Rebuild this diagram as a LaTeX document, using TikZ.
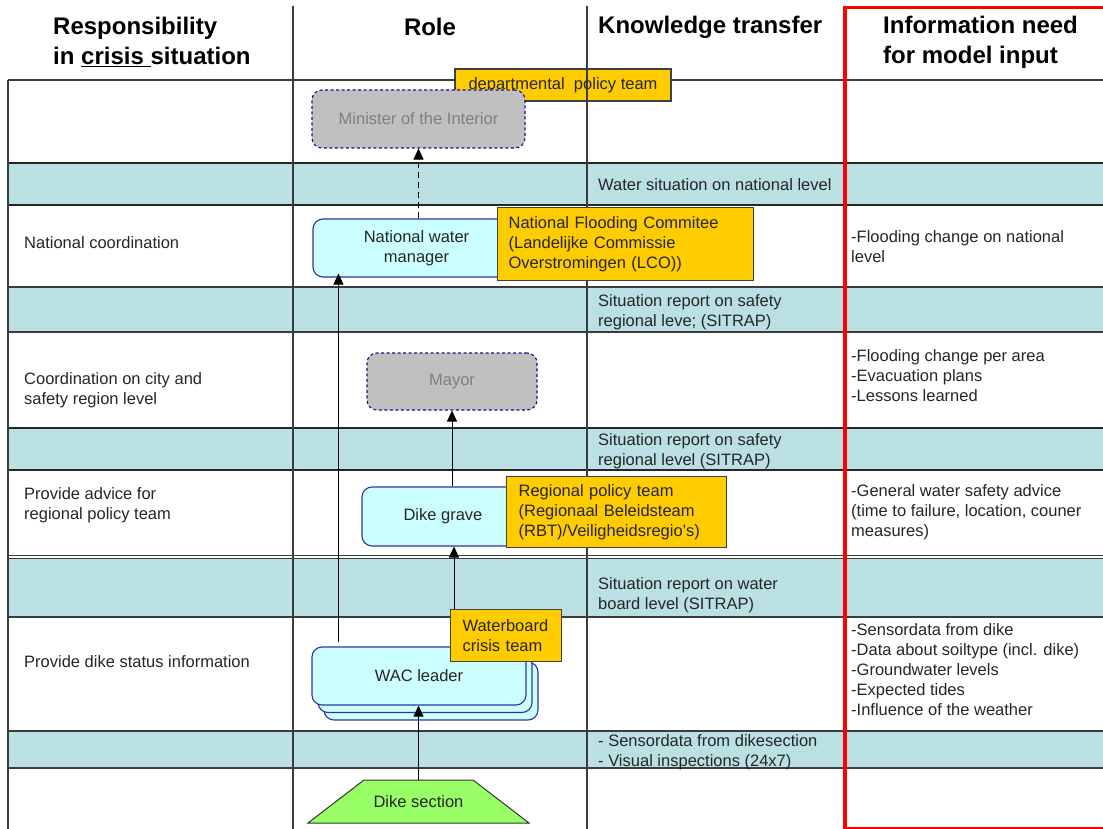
\documentclass[tikz,border=0pt]{standalone}
\usepackage{fontspec}
\setmainfont{Liberation Sans}
\usetikzlibrary{shadows,arrows.meta}
\definecolor{bandc}{RGB}{186,224,227}
\definecolor{cyanbox}{RGB}{204,255,255}
\definecolor{graybox}{RGB}{192,192,192}
\definecolor{yel}{RGB}{255,204,0}
\definecolor{navyc}{RGB}{51,51,160}
\definecolor{dashnavy}{RGB}{20,20,140}
\definecolor{gridc}{RGB}{60,60,60}
\definecolor{gtext}{RGB}{128,128,128}
\begin{document}
\begin{tikzpicture}[x=1pt,y=-1pt,
  body/.style={font=\fontsize{16.5}{20}\selectfont, inner sep=0pt, align=left, anchor=west, text=black!85},
  head/.style={font=\fontsize{24}{30}\bfseries\selectfont, inner sep=0pt, align=left},
  band/.style={fill=bandc},
  thinline/.style={draw=gridc, line width=1.2pt},
  thickline/.style={draw=black!85, line width=2.4pt},
  rolebox/.style={rounded corners=10pt, draw=navyc, fill=cyanbox, line width=1.1pt,
    font=\fontsize{16.5}{20}\selectfont, align=center, inner sep=0pt, text=black!85},
  ghostbox/.style={rounded corners=10pt, draw=dashnavy, dash pattern=on 3pt off 2.5pt, fill=graybox,
    line width=1.1pt, font=\fontsize{16.5}{20}\selectfont, align=center, inner sep=0pt, text=gtext},
  teambox/.style={fill=yel, draw=black!75, line width=1.2pt, font=\fontsize{16.5}{20}\selectfont,
    align=left, inner ysep=0pt, anchor=north west, text=black!85},
  arr/.style={-{Triangle[length=11pt,width=10pt]}, line width=1pt, black},
]
\useasboundingbox (0,0) rectangle (1103,829);
\clip (0,0) rectangle (1103,829);
\fill[white] (0,0) rectangle (1103,829);

% bands
\fill[band] (8,163) rectangle (1103,205);
\fill[band] (8,287) rectangle (1103,332);
\fill[band] (8,428) rectangle (1103,470);
\fill[band] (8,558) rectangle (1103,617);
\fill[band] (8,731) rectangle (1103,768);

% horizontal lines
\foreach \yy in {80,287,332,555.5,558.5,617,731,768} {\draw[thinline] (8,\yy) -- (1103,\yy);}
\foreach \yy in {163,205,428,470} {\draw[thickline] (8,\yy) -- (1103,\yy);}

% header
\node[head, anchor=west] (h1) at (53,42) {Responsibility\\in \underline{crisis\ }situation};
\node[head] (h2) at (430,27) {Role};
\node[head, anchor=west] (h3) at (598,27) {Knowledge transfer};
\node[head, anchor=west] (h4) at (883,42) {Information need\\for model input};

% departmental box (under the vertical lines)
\node[teambox, minimum width=216pt, minimum height=32pt, align=center, anchor=center] (dep) at (563,85) {departmental\ \ policy team};

% vertical lines
\draw[thinline] (8,80) -- (8,829);
\draw[thinline] (293,6) -- (293,829);
\draw[thinline] (587,6) -- (587,829);

% left column texts
\node[body] (r1) at (24,243) {National coordination};
\node[body] (r2) at (24,390) {Coordination on city and\\safety region level};
\node[body] (r3) at (24,505) {Provide advice for\\regional policy team};
\node[body] (r4) at (24,662) {Provide dike status information};

% knowledge transfer texts
\node[body] (k1) at (598,185) {Water situation on national level};
\node[body] (k2) at (598,312) {Situation report on safety\\regional leve; (SITRAP)};
\node[body] (k3) at (598,451) {Situation report on safety\\regional level (SITRAP)};
\node[body] (k4) at (598,595) {Situation report on water\\board level (SITRAP)};
\node[body] (k5) at (598,752) {- Sensordata from dikesection\\- Visual inspections (24x7)};

% info need texts
\node[body] (i1) at (851,247) {-Flooding change on national\\level};
\node[body] (i2) at (851,376) {-Flooding change per area\\-Evacuation plans\\-Lessons learned};
\node[body] (i3) at (851,512) {-General water safety advice\\(time to failure, location, couner\\measures)};
\node[body] (i4) at (851,670) {-Sensordata from dike\\-Data about soiltype (incl. dike)\\-Groundwater levels\\-Expected tides\\-Influence of the weather};

% role boxes
\node[ghostbox, minimum width=213pt, minimum height=58pt] (min) at (418.5,119) {Minister of the Interior};
\node[rolebox, minimum width=207pt, minimum height=58pt] (nwm) at (416.5,248) {National water\\manager};
\node[ghostbox, minimum width=170pt, minimum height=57pt] (may) at (452,381.5) {Mayor};
\node[rolebox, minimum width=162pt, minimum height=59pt] (dg) at (443,516.5) {Dike grave};
\node[rolebox, minimum width=214pt, minimum height=58pt,
  copy shadow={shadow xshift=12pt, shadow yshift=-15pt},
  copy shadow={shadow xshift=6pt, shadow yshift=-7.5pt}] (wac) at (419,676) {WAC leader};

% dike section
\fill[fill={rgb,255:red,153;green,255;blue,102}, draw=black!80, line width=1pt]
  (364,780) -- (473,780) -- (529,823) -- (308,823) -- cycle;
\node[inner sep=0pt, minimum width=109pt, minimum height=43pt, font=\fontsize{16.5}{20}\selectfont, text=black!85] (ds) at (418.5,801.5) {Dike section};

% connectors
\draw[arr, dash pattern=on 6pt off 4pt] (nwm.north -| min.south) -- (min.south);
\draw[arr] ([shift={(27,-4)}]wac.north west) -- ([shift={(27,-4)}]wac.north west |- nwm.south);
\draw[arr] (dg.north -| may.south) -- (may.south);
\draw[arr] (ds.north) -- (ds.north |- wac.south);

% team boxes
\node[teambox, text width=234pt, inner xsep=11pt, minimum height=73pt] (nfc) at (497,207)
  {National Flooding Commitee\\(Landelijke Commissie\\Overstromingen (LCO))};
\node[teambox, text width=196pt, inner xsep=12pt, minimum height=71pt] (rpt) at (506,476)
  {Regional policy team\\(Regionaal Beleidsteam\\(RBT)/Veiligheidsregio's)};
\node[teambox, text width=87pt, inner xsep=12pt, minimum height=52pt] (wb) at (450,609)
  {Waterboard\\crisis team};
\draw[arr] ([xshift=4pt]wb.north west) -- ([xshift=4pt]wb.north west |- dg.south);

% red frame
\draw[red, line width=3.5pt] (845,7.5) rectangle (1115,829);
\end{tikzpicture}
\end{document}
